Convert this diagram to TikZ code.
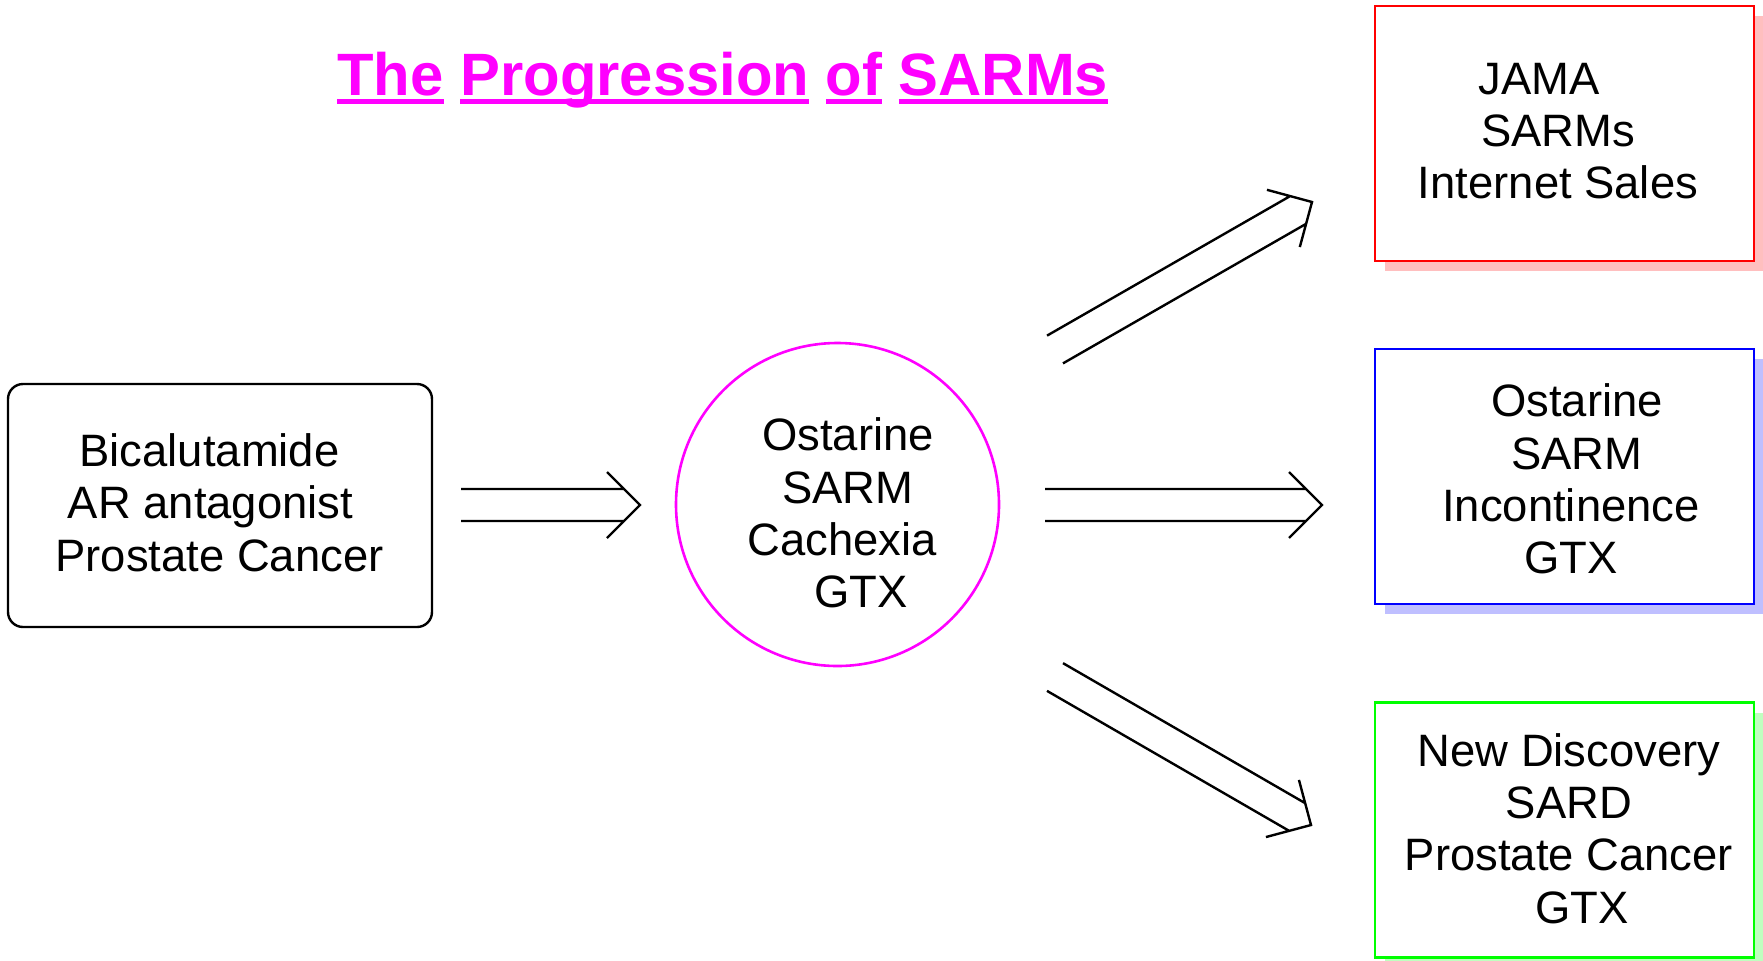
\documentclass[tikz,border=0pt]{standalone}
\usepackage{fontspec}
\setmainfont{Liberation Sans}
\usetikzlibrary{calc,positioning,shadows}
\definecolor{sarmpink}{HTML}{FF00FF}
\definecolor{sarmgreen}{HTML}{00FF00}
% word with its own underline
\newcommand{\ulword}[1]{\setbox0=\hbox{#1}\rlap{\rule[-4.7pt]{\wd0}{2.7pt}}\box0\relax}
\tikzset{
  stage/.style={draw, fill=white, line width=1.4pt, minimum width=189.5pt, minimum height=127.5pt, inner sep=0pt},
  stagetext/.style={align=center, inner sep=0pt, font=\fontsize{22.7}{26.2}\selectfont},
  heading/.style={anchor=base west, inner sep=0pt, text=sarmpink, font=\bfseries\fontsize{29.9}{34}\selectfont},
  twin/.style={line width=1.2pt, to path={
    let \p1=($(\tikztotarget)-(\tikztostart)$), \n1={atan2(\y1,\x1)}, \n2={veclen(\x1,\y1)} in
    ([shift={(\tikztostart)},rotate=\n1]0pt,8pt) -- ([shift={(\tikztostart)},rotate=\n1]\n2-8pt,8pt)
    ([shift={(\tikztostart)},rotate=\n1]0pt,-8pt) -- ([shift={(\tikztostart)},rotate=\n1]\n2-8pt,-8pt)
    ([shift={(\tikztostart)},rotate=\n1]\n2-16.5pt,16.5pt) -- (\tikztotarget)
      -- ([shift={(\tikztostart)},rotate=\n1]\n2-16.5pt,-16.5pt)}}
}
\begin{document}
\begin{tikzpicture}[x=0.5pt,y=-0.5pt]
  \useasboundingbox (0,0) rectangle (1763,960);
  \node[heading] (title) at (337,95) {\ulword{The} \ulword{Progression} \ulword{of} \ulword{SARMs}};

  % start and the three outcomes
  \node[draw, line width=1.2pt, rounded corners=7.5pt, minimum width=212pt, minimum height=121.5pt] (bical) at (220,505.5) {};
  \node[stagetext] (bicaltext) at (219.5,502.5) {Bicalutamide\kern10pt\\AR antagonist\kern9pt\\Prostate Cancer};
  \node[circle, draw=sarmpink, line width=1.3pt, minimum size=161.5pt, inner sep=0pt] (ostarine) at (837.5,504.5) {};
  \node[stagetext] (ostarinetext) at (848,513) {Ostarine\\SARM\\Cachexia\kern6pt\\\kern13pt GTX};
  \node[stage, draw=red, drop shadow={fill=red!25, opacity=1, shadow xshift=5pt, shadow yshift=-5pt}] (jama) at (1564.5,133.5) {};
  \node[stagetext] (jamatext) at (1558,131) {JAMA\kern19pt\\SARMs\\Internet Sales};
  \node[stage, draw=blue, drop shadow={fill=blue!25, opacity=1, shadow xshift=5pt, shadow yshift=-5pt}] (incont) at (1564.5,476.5) {};
  \node[stagetext] (inconttext) at (1571,479) {\kern6pt Ostarine\\\kern6pt SARM\\Incontinence\\GTX};
  \node[stage, draw=sarmgreen, drop shadow={fill=sarmgreen!25, opacity=1, shadow xshift=5pt, shadow yshift=-5pt}] (sard) at (1564.5,830) {};
  \node[stagetext] (sardtext) at (1569,828.5) {New Discovery\\SARD\\Prostate Cancer\\\kern13pt GTX};

  % arrow ends
  \coordinate (in1) at (461,505);   \coordinate (out1) at (640,505);
  \coordinate (in2) at (1055,349.5); \coordinate (out2) at (1312,202);
  \coordinate (in3) at (1045,505);  \coordinate (out3) at (1322,505);
  \coordinate (in4) at (1055,677);  \coordinate (out4) at (1311,825);
  \foreach \s/\e in {in1/out1, in2/out2, in3/out3, in4/out4}
    \draw[twin] (\s) to (\e);
\end{tikzpicture}
\end{document}
